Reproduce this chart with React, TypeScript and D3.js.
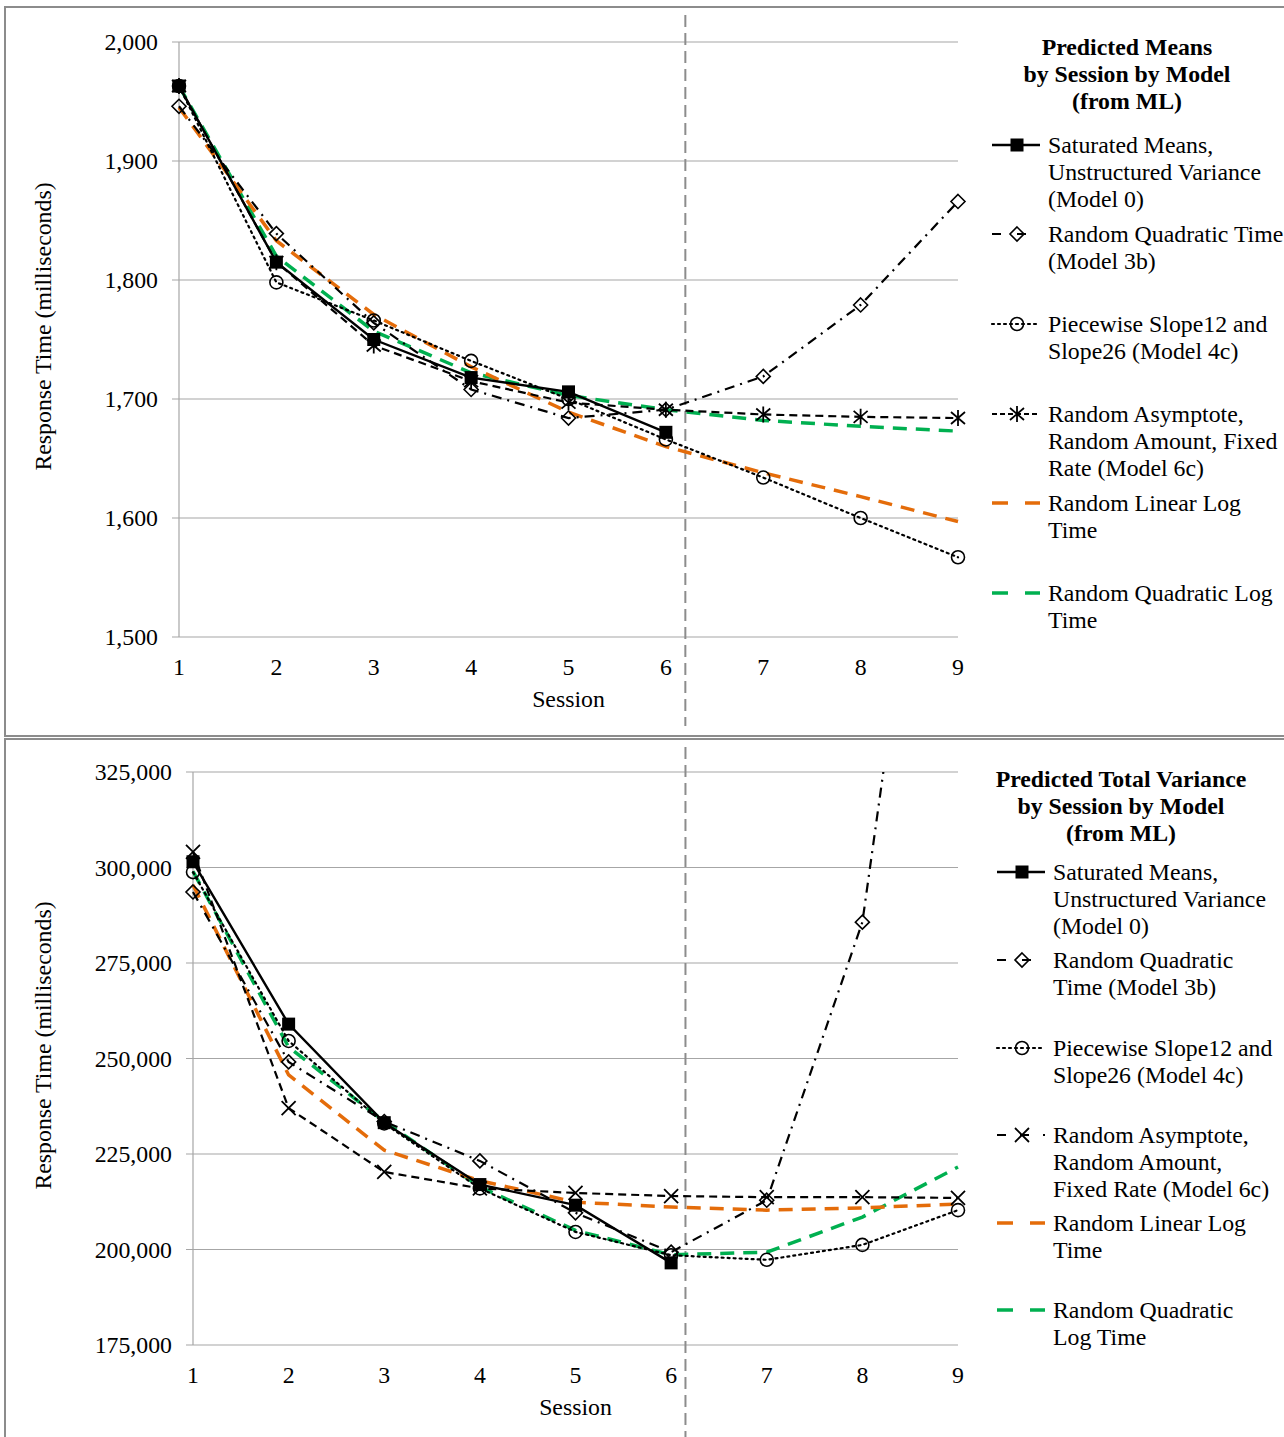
import * as d3 from "d3"

const sessions = [1, 2, 3, 4, 5, 6, 7, 8, 9]

// predicted means (ms)
const meansSaturated = [1963, 1815, 1750, 1718, 1706, 1672]
const meansQuadTime = [1946, 1839, 1764, 1708, 1684, 1691, 1719, 1779, 1866]
const meansPiecewise = [1963, 1798, 1766, 1732, 1700, 1666, 1634, 1600, 1567]
const meansAsymptote = [1963, 1815, 1745, 1715, 1697, 1691, 1687, 1685, 1684]
const meansLinearLog = [1945, 1833, 1771, 1727, 1689, 1660, 1638, 1618, 1597]
const meansQuadLog = [1963, 1820, 1757, 1722, 1703, 1691, 1682, 1677, 1673]
const meansTicks = [1500, 1600, 1700, 1800, 1900, 2000]

// predicted total variance
const varSaturated = [301500, 259000, 233200, 217000, 211600, 196500]
const varQuadTime = [293600, 249100, 233500, 223200, 209600, 199300, 212900, 285700, 465000]
const varPiecewise = [298800, 254600, 233000, 216000, 204600, 198500, 197300, 201200, 210300]
const varAsymptote = [304100, 237000, 220300, 216000, 214800, 214000, 213700, 213700, 213500]
const varLinearLog = [295400, 245700, 226000, 218000, 212400, 211100, 210300, 210900, 211900]
const varQuadLog = [299000, 253000, 233500, 216400, 205000, 198600, 199300, 208500, 221600]
const varTicks = [175000, 200000, 225000, 250000, 275000, 300000, 325000]

const meansLegend = [
  ["Saturated Means,", "Unstructured Variance", "(Model 0)"],
  ["Random Quadratic Time", "(Model 3b)"],
  ["Piecewise Slope12 and", "Slope26 (Model 4c)"],
  ["Random Asymptote,", "Random Amount, Fixed", "Rate (Model 6c)"],
  ["Random Linear Log", "Time"],
  ["Random Quadratic Log", "Time"],
]
const varLegend = [
  ["Saturated Means,", "Unstructured Variance", "(Model 0)"],
  ["Random Quadratic", "Time (Model 3b)"],
  ["Piecewise Slope12 and", "Slope26 (Model 4c)"],
  ["Random Asymptote,", "Random Amount,", "Fixed Rate (Model 6c)"],
  ["Random Linear Log", "Time"],
  ["Random Quadratic", "Log Time"],
]

const FONT = "'Liberation Serif', 'Times New Roman', serif"
const FS = 23.8
const GRID = "#a6a6a6"

type Style = { stroke: string; width: number; dash: string; legendDash: string; marker: string }

const styles = (asterisk: boolean): Style[] => [
  { stroke: "#000", width: 2.4, dash: "", legendDash: "", marker: "square" },
  { stroke: "#000", width: 2.2, dash: "10,6,2,6", legendDash: "9,16", marker: "diamond" },
  { stroke: "#000", width: 2.2, dash: "2,4", legendDash: "2,4", marker: "circle" },
  { stroke: "#000", width: 2.2, dash: "8,5", legendDash: asterisk ? "5,3" : "9,14", marker: asterisk ? "star" : "x" },
  { stroke: "#E46C0A", width: 3.5, dash: "14,9", legendDash: "16,17", marker: "" },
  { stroke: "#00B050", width: 3.5, dash: "14,9", legendDash: "16,17", marker: "" },
]

const Marker = ({ kind, x, y }: { kind: string; x: number; y: number }) => {
  if (kind === "square") return <rect x={x - 6.5} y={y - 6.5} width={13} height={13} fill="#000" />
  if (kind === "diamond")
    return <path d={`M${x},${y - 7}L${x + 7},${y}L${x},${y + 7}L${x - 7},${y}Z`} fill="none" stroke="#000" strokeWidth={1.6} />
  if (kind === "circle") return <circle cx={x} cy={y} r={6.5} fill="none" stroke="#000" strokeWidth={1.6} />
  if (kind === "star")
    return (
      <path
        d={`M${x},${y - 8}V${y + 8}M${x - 7},${y - 6}L${x + 7},${y + 6}M${x - 7},${y + 6}L${x + 7},${y - 6}`}
        stroke="#000"
        strokeWidth={1.8}
      />
    )
  if (kind === "x")
    return <path d={`M${x - 7},${y - 7}L${x + 7},${y + 7}M${x - 7},${y + 7}L${x + 7},${y - 7}`} stroke="#000" strokeWidth={1.8} />
  return null
}

type PanelProps = {
  id: string
  frameY: number
  frameH: number
  x0: number
  x1: number
  yTop: number
  yBottom: number
  domain: [number, number]
  ticks: number[]
  series: number[][]
  divider: number
  title: string[]
  titleX: number
  legend: string[][]
  legendX: number
  legendYs: number[]
  asterisk: boolean
}

const Panel = (p: PanelProps) => {
  const x = d3.scaleLinear().domain([1, 9]).range([p.x0, p.x1])
  const y = d3.scaleLinear().domain(p.domain).range([p.yBottom, p.yTop])
  const st = styles(p.asterisk)
  const line = d3
    .line<number>()
    .x((_, i) => x(sessions[i]))
    .y((d) => y(d))
  const fmt = d3.format(",")
  const midY = (p.yTop + p.yBottom) / 2 - 13
  const divX = x(p.divider)

  return (
    <g>
      <defs>
        <clipPath id={p.id}>
          <rect x={p.x0 - 10} y={p.yTop} width={p.x1 - p.x0 + 20} height={p.yBottom - p.yTop} />
        </clipPath>
      </defs>
      <rect x={5} y={p.frameY} width={1282} height={p.frameH} fill="#fff" stroke="#8c8c8c" strokeWidth={2} />

      {/* grid + y axis */}
      {p.ticks.map((t) => (
        <g key={t}>
          <line x1={p.x0 - 7} x2={p.x1} y1={y(t)} y2={y(t)} stroke={GRID} strokeWidth={1.2} />
          <text x={p.x0 - 21} y={y(t)} dy="0.35em" textAnchor="end" fontSize={FS} fontFamily={FONT}>
            {fmt(t)}
          </text>
        </g>
      ))}
      <line x1={p.x0} x2={p.x0} y1={p.yTop} y2={p.yBottom} stroke={GRID} strokeWidth={1.2} />
      {sessions.map((s) => (
        <text key={s} x={x(s)} y={p.yBottom + 30} dy="0.35em" textAnchor="middle" fontSize={FS} fontFamily={FONT}>
          {s}
        </text>
      ))}
      <text x={(p.x0 + p.x1) / 2} y={p.yBottom + 62} dy="0.35em" textAnchor="middle" fontSize={FS} fontFamily={FONT}>
        Session
      </text>
      <text transform={`translate(43,${midY}) rotate(-90)`} dy="0.35em" textAnchor="middle" fontSize={FS} fontFamily={FONT}>
        Response Time (milliseconds)
      </text>

      {/* divider */}
      <line
        x1={divX}
        x2={divX}
        y1={p.frameY + 8}
        y2={p.frameY + p.frameH - 10}
        stroke="#8c8c8c"
        strokeWidth={2}
        strokeDasharray="12,6"
      />

      {/* series lines, drawn back to front */}
      <g clipPath={`url(#${p.id})`}>
        {[5, 4, 3, 2, 1, 0].map((k) => (
          <path
            key={k}
            d={line(p.series[k]) || ""}
            fill="none"
            stroke={st[k].stroke}
            strokeWidth={st[k].width}
            strokeDasharray={st[k].dash || undefined}
            strokeLinecap={k === 2 ? "round" : "butt"}
          />
        ))}
      </g>
      {[3, 2, 1, 0].map((k) =>
        p.series[k].map((v, i) =>
          y(v) >= p.yTop - 1 ? <Marker key={`${k}-${i}`} kind={st[k].marker} x={x(sessions[i])} y={y(v)} /> : null
        )
      )}

      {/* legend */}
      {p.title.map((t, i) => (
        <text
          key={t}
          x={p.titleX}
          y={p.frameY + 40 + i * 27}
          dy="0.35em"
          textAnchor="middle"
          fontSize={FS}
          fontWeight="bold"
          fontFamily={FONT}
        >
          {t}
        </text>
      ))}
      {p.legend.map((lines, k) => {
        const ly = p.legendYs[k]
        const lx = p.legendX
        return (
          <g key={k}>
            <line
              x1={lx}
              x2={lx + 48}
              y1={ly}
              y2={ly}
              stroke={st[k].stroke}
              strokeWidth={st[k].width}
              strokeDasharray={st[k].legendDash || undefined}
              strokeLinecap={k === 2 ? "round" : "butt"}
            />
            <Marker kind={st[k].marker} x={lx + 25} y={ly} />
            {lines.map((t, j) => (
              <text key={j} x={lx + 56} y={ly + j * 27} dy="0.35em" fontSize={FS} fontFamily={FONT}>
                {t}
              </text>
            ))}
          </g>
        )
      })}
    </g>
  )
}

export default function App() {
  return (
    <svg width={1284} height={1437} style={{ position: "absolute", left: 0, top: 0, background: "#fff" }}>
      <Panel
        id="clipMeans"
        frameY={7}
        frameH={729}
        x0={179}
        x1={958}
        yTop={42}
        yBottom={637}
        domain={[1500, 2000]}
        ticks={meansTicks}
        series={[meansSaturated, meansQuadTime, meansPiecewise, meansAsymptote, meansLinearLog, meansQuadLog]}
        divider={6.2}
        title={["Predicted Means", "by Session by Model", "(from ML)"]}
        titleX={1127}
        legend={meansLegend}
        legendX={992}
        legendYs={[145, 234, 324, 414, 503, 593]}
        asterisk={true}
      />
      <Panel
        id="clipVar"
        frameY={739}
        frameH={710}
        x0={193}
        x1={958}
        yTop={772}
        yBottom={1345}
        domain={[175000, 325000]}
        ticks={varTicks}
        series={[varSaturated, varQuadTime, varPiecewise, varAsymptote, varLinearLog, varQuadLog]}
        divider={6.15}
        title={["Predicted Total Variance", "by Session by Model", "(from ML)"]}
        titleX={1121}
        legend={varLegend}
        legendX={997}
        legendYs={[872, 960, 1048, 1135, 1223, 1310]}
        asterisk={false}
      />
    </svg>
  )
}
